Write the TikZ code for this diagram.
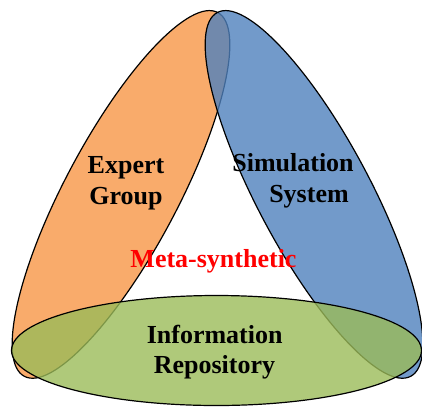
\documentclass[tikz,border=0pt]{standalone}
\usepackage{fontspec}
\setmainfont{Liberation Serif}
\definecolor{petalorange}{RGB}{247,150,70}
\definecolor{petalblue}{RGB}{79,129,189}
\definecolor{petalgreen}{RGB}{155,187,89}
\definecolor{coretext}{RGB}{255,0,0}
\tikzset{
  petal/.style={draw=black, line width=1.2pt, fill opacity=0.8},
  label/.style={inner sep=0pt, anchor=base, font=\bfseries\fontsize{26}{31}\selectfont}
}
\begin{document}
\begin{tikzpicture}[x=1pt,y=-1pt]
\useasboundingbox (0,0) rectangle (422,407);
% three overlapping petals, each lighter layer over the previous one
\draw[petal, fill=petalorange, rotate around={62:(121,194.4)}]
  (121,194.4) ellipse [x radius=206, y radius=56.5];
\draw[petal, fill=petalblue, rotate around={118:(314,194.4)}]
  (314,194.4) ellipse [x radius=206, y radius=56.5];
\draw[petal, fill=petalgreen]
  (216.5,350.5) ellipse [x radius=205, y radius=55];
% labels
\node[label] (expertA) at (126,173) {Expert};
\node[label] (expertB) at (126,204) {Group};
\node[label] (simA) at (293,171) {Simulation};
\node[label] (simB) at (309,202) {System};
\node[label] (infoA) at (214.7,343) {Information};
\node[label] (infoB) at (214.5,373) {Repository};
\node[label, text=coretext] (core) at (213.5,267) {Meta-synthetic};
\end{tikzpicture}
\end{document}
